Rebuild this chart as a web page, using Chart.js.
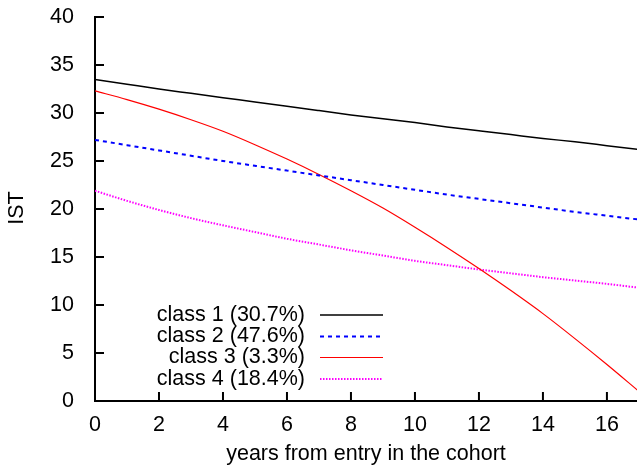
<!DOCTYPE html>
<html>
<head>
<meta charset="utf-8">
<script src="https://cdn.jsdelivr.net/npm/chart.js@4.4.1/dist/chart.umd.min.js"></script>
<style>
  html, body { margin: 0; padding: 0; background: #fff; }
  #wrap { width: 637px; height: 465px; position: relative; }
</style>
</head>
<body>
<div id="wrap"><canvas id="chart"></canvas></div>
<script>
// values
const years = [0, 1, 2, 3, 4, 5, 6, 7, 8, 9, 10, 11, 12, 13, 14, 15, 16, 17];
const class1 = [33.5, 33.0, 32.5, 32.05, 31.6, 31.15, 30.7, 30.25, 29.8, 29.4, 29.0, 28.55, 28.15, 27.75, 27.35, 27.0, 26.6, 26.2];
const class2 = [27.2, 26.65, 26.1, 25.55, 25.0, 24.5, 24.0, 23.5, 23.0, 22.5, 22.0, 21.5, 21.05, 20.6, 20.15, 19.7, 19.3, 18.9];
const class3 = [32.3, 31.4, 30.4, 29.3, 28.1, 26.7, 25.2, 23.6, 21.9, 20.1, 18.1, 16.0, 13.8, 11.5, 9.1, 6.5, 3.8, 1.0];
const class4 = [21.9, 20.85, 19.9, 19.05, 18.3, 17.6, 16.9, 16.3, 15.7, 15.15, 14.6, 14.15, 13.7, 13.3, 12.9, 12.55, 12.2, 11.8];
const seriesLabels = ['class 1 (30.7%)', 'class 2 (47.6%)', 'class 3 (3.3%)', 'class 4 (18.4%)'];
const yTicks = [0, 5, 10, 15, 20, 25, 30, 35, 40];
const xTicks = [0, 2, 4, 6, 8, 10, 12, 14, 16];

const FONT = '"Liberation Sans", Arial, Helvetica, sans-serif';
const FONT_SIZE = 21.5;

function toPoints(vals) {
    return years.map((x, i) => ({ x: x, y: vals[i] }));
}

// gnuplot style: inward ticks, right aligned key, axis titles
const gnuplotBits = {
    id: 'gnuplotBits',
    afterDatasetsDraw(chart) {
        const ctx = chart.ctx;
        const area = chart.chartArea;
        const xs = chart.scales.x;
        const ys = chart.scales.y;
        ctx.save();
        ctx.strokeStyle = '#000';
        ctx.lineWidth = 2;
        ctx.beginPath();
        xTicks.forEach(v => {
            const px = xs.getPixelForValue(v);
            ctx.moveTo(px, area.bottom);
            ctx.lineTo(px, area.bottom - 9);
        });
        yTicks.forEach(v => {
            const py = ys.getPixelForValue(v);
            ctx.moveTo(area.left, py);
            ctx.lineTo(area.left + 9, py);
        });
        ctx.stroke();

        // key
        ctx.font = FONT_SIZE + 'px ' + FONT;
        ctx.textAlign = 'right';
        ctx.textBaseline = 'middle';
        const rows = [315, 336.5, 357.5, 379];
        chart.data.datasets.forEach((ds, i) => {
            ctx.fillStyle = '#000';
            ctx.fillText(ds.label, 305, rows[i]);
            ctx.strokeStyle = ds.borderColor;
            ctx.lineWidth = ds.borderWidth;
            ctx.setLineDash(ds.borderDash || []);
            ctx.beginPath();
            ctx.moveTo(320, rows[i]);
            ctx.lineTo(383, rows[i]);
            ctx.stroke();
        });
        ctx.setLineDash([]);

        // axis titles
        ctx.fillStyle = '#000';
        ctx.textAlign = 'center';
        ctx.fillText('years from entry in the cohort', (area.left + area.right) / 2, 454);
        ctx.translate(17, 208);
        ctx.rotate(-Math.PI / 2);
        ctx.fillText('IST', 0, 0);
        ctx.restore();
    }
};

new Chart(document.getElementById('chart'), {
    type: 'line',
    data: {
        datasets: [
            { label: seriesLabels[0], data: toPoints(class1), borderColor: '#000000', borderWidth: 1.5 },
            { label: seriesLabels[1], data: toPoints(class2), borderColor: '#0000ff', borderWidth: 2, borderDash: [4, 4] },
            { label: seriesLabels[2], data: toPoints(class3), borderColor: '#ff0000', borderWidth: 1.2 },
            { label: seriesLabels[3], data: toPoints(class4), borderColor: '#ff00ff', borderWidth: 2, borderDash: [1.5, 1.5] }
        ]
    },
    options: {
        responsive: true,
        maintainAspectRatio: false,
        animation: false,
        elements: {
            point: { radius: 0 },
            line: { cubicInterpolationMode: 'monotone', fill: false }
        },
        layout: { padding: { top: 17, right: 0, left: 0, bottom: 0 } },
        plugins: {
            legend: { display: false },
            tooltip: { enabled: false }
        },
        scales: {
            x: {
                type: 'linear',
                min: 0,
                max: 16.94,
                grid: { display: false },
                border: { display: true, color: '#000', width: 2 },
                afterBuildTicks: s => { s.ticks = xTicks.map(v => ({ value: v })); },
                afterFit: s => { s.height = 64; s.paddingLeft = 0; s.paddingRight = 0; },
                ticks: { color: '#000', padding: 3, maxRotation: 0, autoSkip: false, font: { family: FONT, size: FONT_SIZE } }
            },
            y: {
                min: 0,
                max: 40,
                grid: { display: false },
                border: { display: true, color: '#000', width: 2 },
                afterBuildTicks: s => { s.ticks = yTicks.map(v => ({ value: v })); },
                afterFit: s => { s.width = 95; s.paddingTop = 0; s.paddingBottom = 0; },
                ticks: { color: '#000', padding: 13, font: { family: FONT, size: FONT_SIZE } }
            }
        }
    },
    plugins: [gnuplotBits]
});
</script>
</body>
</html>
